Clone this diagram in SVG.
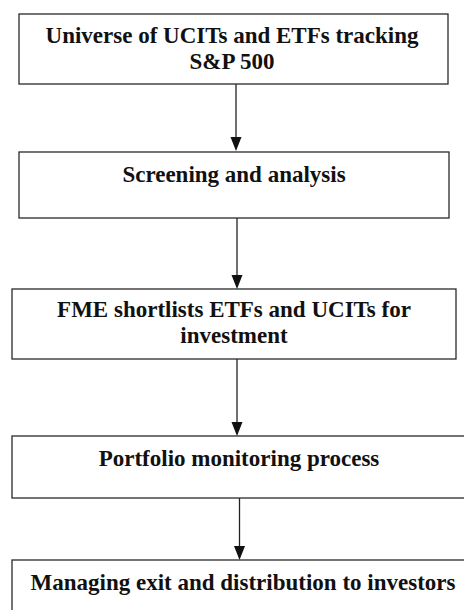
<svg xmlns="http://www.w3.org/2000/svg" width="464" height="610" viewBox="0 0 464 610">
<style>
.box{fill:#fff;stroke:#2a2a2a;stroke-width:1.3}
.t{font-family:"Liberation Serif","Times New Roman",serif;font-weight:bold;font-size:23px;fill:#111;text-anchor:middle}
.c{stroke:#222;stroke-width:1.3;fill:none}
.ah{fill:#111}
</style>
<rect width="464" height="610" fill="#fff"/>
<g id="connectors">
<line class="c" x1="236" y1="84" x2="236" y2="140"/>
<line class="c" x1="237" y1="218" x2="237" y2="278"/>
<line class="c" x1="237" y1="359" x2="237" y2="425"/>
<line class="c" x1="239.5" y1="498" x2="239.5" y2="549"/>
<path class="ah" d="M230.5,137 L241.5,137 L236,151 Z"/>
<path class="ah" d="M231.5,275 L242.5,275 L237,289 Z"/>
<path class="ah" d="M231.5,422 L242.5,422 L237,436 Z"/>
<path class="ah" d="M234,546 L245,546 L239.5,560 Z"/>
</g>
<g id="n1">
<rect class="box" x="19" y="14" width="429" height="70"/>
<text class="t" x="232" y="43">Universe of UCITs and ETFs tracking</text>
<text class="t" x="232" y="69">S&amp;P 500</text>
</g>
<g id="n2">
<rect class="box" x="19" y="152" width="430" height="66"/>
<text class="t" x="234" y="182">Screening and analysis</text>
</g>
<g id="n3">
<rect class="box" x="12" y="289" width="444" height="70"/>
<text class="t" x="234" y="317">FME shortlists ETFs and UCITs for</text>
<text class="t" x="234" y="343">investment</text>
</g>
<g id="n4">
<rect class="box" x="12" y="436" width="470" height="62"/>
<text class="t" x="239" y="466">Portfolio monitoring process</text>
</g>
<g id="n5">
<rect class="box" x="12" y="560" width="470" height="70"/>
<text class="t" x="243" y="590">Managing exit and distribution to investors</text>
</g>
</svg>
